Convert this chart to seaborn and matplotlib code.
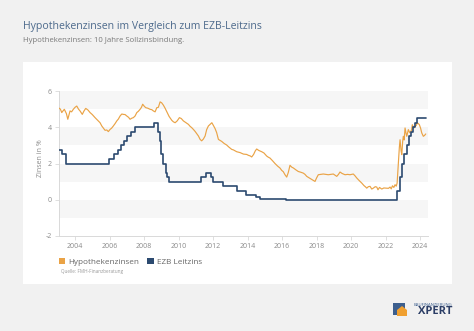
import numpy as np
import pandas as pd
import matplotlib
matplotlib.use("Agg")
import matplotlib.pyplot as plt
import seaborn as sns
from matplotlib.patches import Rectangle, Polygon, Patch

# ---------------- data ----------------
years_hyp = [2003.03, 2003.15, 2003.23, 2003.30, 2003.38, 2003.50, 2003.58, 2003.71, 2003.80, 2003.90,
             2004.00, 2004.10, 2004.20, 2004.29, 2004.42, 2004.52, 2004.62, 2004.75, 2004.87, 2005.00,
             2005.16, 2005.35, 2005.45, 2005.55, 2005.64, 2005.74, 2005.84, 2005.93, 2006.03, 2006.12,
             2006.22, 2006.32, 2006.42, 2006.51, 2006.61, 2006.71, 2006.80, 2006.90, 2007.00, 2007.10,
             2007.19, 2007.29, 2007.38, 2007.48, 2007.58, 2007.67, 2007.77, 2007.85, 2007.92, 2008.02,
             2008.10, 2008.22, 2008.35, 2008.45, 2008.54, 2008.64, 2008.74, 2008.83, 2008.93, 2009.02,
             2009.12, 2009.22, 2009.32, 2009.45, 2009.61, 2009.70, 2009.80, 2009.92, 2010.05, 2010.16,
             2010.28, 2010.40, 2010.57, 2010.67, 2010.76, 2010.86, 2010.96, 2011.05, 2011.15, 2011.25,
             2011.34, 2011.44, 2011.54, 2011.63, 2011.73, 2011.85, 2011.93, 2012.02, 2012.12, 2012.21,
             2012.31, 2012.40, 2012.50, 2012.65, 2012.79, 2012.90, 2013.08, 2013.18, 2013.37, 2013.57,
             2013.76, 2013.95, 2014.05, 2014.15, 2014.24, 2014.35, 2014.45, 2014.53, 2014.65, 2014.82,
             2014.95, 2015.11, 2015.20, 2015.30, 2015.45, 2015.59, 2015.75, 2015.88, 2015.98, 2016.07,
             2016.17, 2016.27, 2016.36, 2016.46, 2016.56, 2016.66, 2016.80, 2016.94, 2017.08, 2017.23,
             2017.33, 2017.43, 2017.55, 2017.72, 2017.85, 2017.91, 2018.00, 2018.10, 2018.25, 2018.39,
             2018.52, 2018.68, 2018.82, 2018.97, 2019.08, 2019.17, 2019.27, 2019.36, 2019.48, 2019.65,
             2019.80, 2019.94, 2020.04, 2020.13, 2020.23, 2020.33, 2020.48, 2020.62, 2020.75, 2020.85,
             2020.91, 2021.00, 2021.10, 2021.20, 2021.29, 2021.40, 2021.49, 2021.56, 2021.65, 2021.78,
             2021.90, 2022.07, 2022.17, 2022.26, 2022.33, 2022.40, 2022.48, 2022.55, 2022.62, 2022.67,
             2022.74, 2022.80, 2022.84, 2022.90, 2022.94, 2022.99, 2023.03, 2023.08, 2023.13, 2023.18,
             2023.23, 2023.28, 2023.32, 2023.40, 2023.46, 2023.51, 2023.55, 2023.63, 2023.71, 2023.78,
             2023.84, 2023.90, 2023.96, 2024.03, 2024.10, 2024.19, 2024.26, 2024.33]
rates_hyp = [5.08, 5.00, 4.81, 4.90, 4.99, 4.75, 4.44, 4.90, 4.85, 4.99,
             5.10, 5.17, 5.00, 4.90, 4.71, 4.90, 5.04, 4.95, 4.81, 4.70,
             4.53, 4.35, 4.25, 4.07, 3.96, 3.83, 3.85, 3.76, 3.88, 3.95,
             4.07, 4.20, 4.35, 4.45, 4.62, 4.73, 4.71, 4.70, 4.62, 4.55,
             4.44, 4.50, 4.53, 4.62, 4.81, 4.88, 4.99, 5.10, 5.27, 5.15,
             5.08, 5.05, 4.99, 4.97, 4.90, 4.85, 5.08, 5.10, 5.40, 5.35,
             5.22, 5.05, 4.85, 4.60, 4.38, 4.30, 4.25, 4.35, 4.53, 4.48,
             4.35, 4.27, 4.16, 4.05, 3.98, 3.88, 3.77, 3.65, 3.52, 3.33,
             3.25, 3.35, 3.52, 3.87, 4.07, 4.18, 4.25, 4.10, 3.92, 3.70,
             3.33, 3.28, 3.22, 3.10, 3.02, 2.92, 2.78, 2.75, 2.65, 2.60,
             2.52, 2.50, 2.45, 2.42, 2.36, 2.50, 2.70, 2.80, 2.72, 2.65,
             2.58, 2.41, 2.35, 2.30, 2.15, 2.00, 1.85, 1.75, 1.62, 1.55,
             1.38, 1.25, 1.50, 1.90, 1.80, 1.75, 1.65, 1.56, 1.52, 1.47,
             1.40, 1.29, 1.22, 1.12, 1.05, 1.01, 1.20, 1.38, 1.40, 1.42,
             1.40, 1.38, 1.40, 1.42, 1.35, 1.29, 1.40, 1.53, 1.45, 1.38,
             1.40, 1.38, 1.40, 1.42, 1.32, 1.20, 1.05, 0.92, 0.78, 0.70,
             0.64, 0.72, 0.74, 0.59, 0.64, 0.72, 0.70, 0.55, 0.68, 0.59,
             0.65, 0.64, 0.63, 0.70, 0.60, 0.77, 0.68, 0.83, 0.75, 0.92,
             2.02, 2.90, 3.31, 2.70, 2.49, 3.20, 3.50, 3.30, 3.96, 3.70,
             3.50, 3.70, 3.87, 3.70, 3.77, 3.85, 4.14, 3.95, 4.05, 4.10,
             4.24, 4.20, 4.14, 3.95, 3.68, 3.50, 3.55, 3.63]

years_ezb = [2003.07, 2003.25, 2003.50, 2005.98, 2006.24, 2006.50, 2006.66, 2006.83, 2007.00, 2007.25,
             2007.50, 2008.56, 2008.83, 2008.92, 2009.00, 2009.10, 2009.25, 2009.33, 2009.42, 2011.33,
             2011.58, 2011.90, 2012.00, 2012.58, 2013.40, 2013.92, 2014.50, 2014.75, 2016.25, 2022.69,
             2022.82, 2022.96, 2023.09, 2023.23, 2023.34, 2023.48, 2023.59, 2023.71, 2023.84, 2024.33]
rates_ezb = [2.75, 2.50, 2.00, 2.25, 2.50, 2.75, 3.00, 3.25, 3.50, 3.75,
             4.00, 4.25, 3.75, 3.25, 2.50, 2.00, 1.50, 1.25, 1.00, 1.25,
             1.50, 1.25, 1.00, 0.75, 0.50, 0.25, 0.15, 0.05, 0.00, 0.50,
             1.25, 2.00, 2.50, 3.00, 3.50, 3.75, 4.00, 4.25, 4.50, 4.50]

series_names = ["Hypothekenzinsen", "EZB Leitzins"]
y_ticks = [-2, 0, 2, 4, 6]
x_ticks = list(range(2004, 2025, 2))

title = "Hypothekenzinsen im Vergleich zum EZB-Leitzins"
subtitle = "Hypothekenzinsen: 10 Jahre Sollzinsbindung."
source = "Quelle: FMH-Finanzberatung"

# ---------------- style ----------------
ORANGE = "#eaa346"
BLUE = "#2c4a70"
BG = "#f1f1f1"
BAND = "#f6f6f6"
GRID_GRAY = "#d9d9d9"
TEXT_GRAY = "#8a8a8a"

sns.set_theme(style="white")
plt.rcParams["font.family"] = ["Open Sans", "DejaVu Sans"]

W, H = 474, 331
fig = plt.figure(figsize=(W / 100, H / 100), dpi=100, facecolor=BG)

def fx(px):
    return px / W

def fy(py):
    return 1 - py / H

# white card
fig.patches.append(Rectangle((fx(23), fy(284)), fx(452) - fx(23), fy(62) - fy(284),
                             transform=fig.transFigure, facecolor="white",
                             edgecolor="none", zorder=-5))

ax = fig.add_axes([fx(59), fy(236), fx(428) - fx(59), fy(91) - fy(236)])
ax.set_facecolor("white")

for lo in [-1, 1, 3, 5]:
    ax.axhspan(lo, lo + 1, color=BAND, lw=0, zorder=0)

df_h = pd.DataFrame({"Jahr": years_hyp, "Zins": rates_hyp})
df_e = pd.DataFrame({"Jahr": years_ezb, "Zins": rates_ezb})

sns.lineplot(data=df_h, x="Jahr", y="Zins", color=ORANGE, lw=0.85, ax=ax, zorder=3)
sns.lineplot(data=df_e, x="Jahr", y="Zins", color=BLUE, lw=1.2, ax=ax,
             drawstyle="steps-post", zorder=4)

ax.set_xlim(2003.07, 2024.46)
ax.set_ylim(-2, 6)
ax.set_xticks(x_ticks)
ax.set_xticklabels([str(t) for t in x_ticks])
ax.set_yticks(y_ticks)
ax.set_yticklabels([str(t) for t in y_ticks])
ax.set_xlabel("")
ax.set_ylabel("")

for s in ["top", "right"]:
    ax.spines[s].set_visible(False)
for s in ["left", "bottom"]:
    ax.spines[s].set_color(GRID_GRAY)
    ax.spines[s].set_linewidth(0.7)
ax.tick_params(axis="both", which="both", length=3, width=0.6, color=GRID_GRAY,
               labelsize=5, labelcolor=TEXT_GRAY, pad=2)
ax.tick_params(axis="x", bottom=True)
ax.tick_params(axis="y", left=True)

fig.text(fx(40), fy(158), "Zinsen in %", rotation=90, ha="center", va="center",
         fontsize=5, color=TEXT_GRAY)

# titles
fig.text(fx(23), fy(27), title, fontsize=7.6, color="#4d6a8c", ha="left", va="center")
fig.text(fx(23), fy(40), subtitle, fontsize=5.6, color="#7a7a7a", ha="left", va="center")

# legend
handles = [Patch(facecolor=ORANGE, edgecolor="none"), Patch(facecolor=BLUE, edgecolor="none")]
fig.legend(handles, series_names, loc="center left", bbox_to_anchor=(fx(59), fy(262)),
           ncol=2, frameon=False, fontsize=5.9, labelcolor="#666666",
           handlelength=0.75, handleheight=0.75, handletextpad=0.4, columnspacing=1.0,
           borderaxespad=0, borderpad=0)

fig.text(fx(61), fy(271), source, fontsize=3.3, color="#999999", ha="left", va="center")

# logo
fig.patches.append(Rectangle((fx(393), fy(315)), fx(405) - fx(393), fy(303) - fy(315),
                             transform=fig.transFigure, facecolor="#3d5f8e", edgecolor="none"))
fig.patches.append(Polygon([(fx(397), fy(316)), (fx(397), fy(310)), (fx(402), fy(306)),
                            (fx(407), fy(310)), (fx(407), fy(316))], closed=True,
                           transform=fig.transFigure, facecolor="#f0a030", edgecolor="none"))
fig.text(fx(452), fy(304.5), "BAUFINANZIERUNG", fontsize=3.1, color="#3d5f8e",
         ha="right", va="center")
fig.text(fx(452), fy(311.5), "XPERT", fontsize=8, fontweight="bold", color="#2c3e66",
         ha="right", va="center", family=["Open Sans", "DejaVu Sans"])

fig.savefig("out.png", dpi=100, facecolor=BG)
